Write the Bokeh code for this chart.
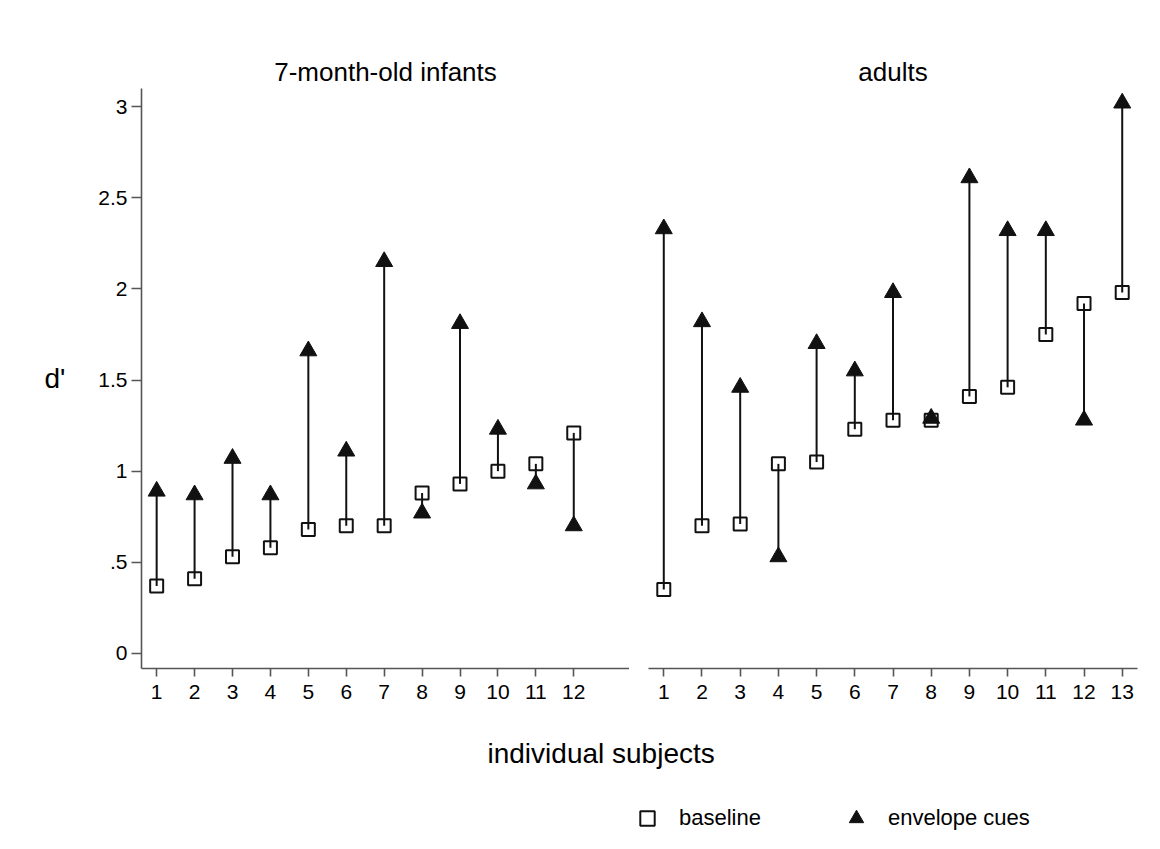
from bokeh.plotting import figure
from bokeh.models import FixedTicker, Range1d, Legend, LegendItem, ColumnDataSource
from bokeh.layouts import column, row
from bokeh.embed import file_html
from bokeh.resources import INLINE

FONT = "Liberation Sans"

# ---- data ----
panel_titles = ["7-month-old infants", "adults"]
infant_subjects = [1, 2, 3, 4, 5, 6, 7, 8, 9, 10, 11, 12]
infant_baseline = [0.37, 0.41, 0.53, 0.58, 0.68, 0.70, 0.70, 0.88, 0.93, 1.00, 1.04, 1.21]
infant_envelope = [0.89, 0.87, 1.07, 0.87, 1.66, 1.11, 2.15, 0.77, 1.81, 1.23, 0.93, 0.70]
adult_subjects = [1, 2, 3, 4, 5, 6, 7, 8, 9, 10, 11, 12, 13]
adult_baseline = [0.35, 0.70, 0.71, 1.04, 1.05, 1.23, 1.28, 1.28, 1.41, 1.46, 1.75, 1.92, 1.98]
adult_envelope = [2.33, 1.82, 1.46, 0.53, 1.70, 1.55, 1.98, 1.29, 2.61, 2.32, 2.32, 1.28, 3.02]
y_ticks = [0, 0.5, 1, 1.5, 2, 2.5, 3]
y_tick_labels = ["0", ".5", "1", "1.5", "2", "2.5", "3"]
y_label = "d'"
x_label = "individual subjects"
legend_labels = ["baseline", "envelope cues"]

AXIS_COLOR = "#555555"
INK = "#111111"

y_range = Range1d(-0.083, 3.1)


def style_x_axis(p, ticks):
    ax = p.xaxis[0]
    ax.ticker = FixedTicker(ticks=ticks)
    ax.axis_line_color = AXIS_COLOR
    ax.axis_line_width = 1.6
    ax.major_tick_line_color = AXIS_COLOR
    ax.major_tick_line_width = 1.6
    ax.major_tick_out = 8
    ax.major_tick_in = 0
    ax.minor_tick_line_color = None
    ax.major_label_text_font = FONT
    ax.major_label_text_font_size = "21px"
    ax.major_label_text_color = "#000000"
    ax.major_label_standoff = 8


def make_panel(title, subjects, base, env, width, x_range, mb_left, mb_right, show_y, title_offset):
    p = figure(width=width, height=710, x_range=x_range, y_range=y_range,
               output_backend="svg", toolbar_location=None,
               y_axis_location="left" if show_y else None,
               min_border_left=mb_left, min_border_right=mb_right,
               min_border_top=88, min_border_bottom=42)
    p.title.text = title
    p.title.align = "center"
    p.title.offset = title_offset
    p.title.text_font = FONT
    p.title.text_font_size = "26px"
    p.title.text_font_style = "normal"
    p.title.text_color = "#000000"
    p.title.standoff = 4
    p.outline_line_color = None
    p.xgrid.visible = False
    p.ygrid.visible = False
    p.background_fill_color = "white"
    p.border_fill_color = "white"

    src = ColumnDataSource(dict(x=subjects, base=base, env=env))
    p.segment(x0="x", y0="base", x1="x", y1="env", source=src,
              line_color=INK, line_width=2)
    p.scatter(x="x", y="base", source=src, marker="square", size=13,
              fill_alpha=0, line_color=INK, line_width=2)
    p.scatter(x="x", y="env", source=src, marker="triangle", size=17,
              fill_color=INK, line_color=INK, line_width=1)

    style_x_axis(p, subjects)
    if show_y:
        ay = p.yaxis[0]
        ay.ticker = FixedTicker(ticks=y_ticks)
        ay.major_label_overrides = {t: l for t, l in zip(y_ticks, y_tick_labels)}
        ay.axis_line_color = AXIS_COLOR
        ay.axis_line_width = 1.6
        ay.major_tick_line_color = AXIS_COLOR
        ay.major_tick_line_width = 1.6
        ay.major_tick_out = 10
        ay.major_tick_in = 0
        ay.minor_tick_line_color = None
        ay.major_label_text_font = FONT
        ay.major_label_text_font_size = "21px"
        ay.major_label_text_color = "#000000"
        ay.major_label_standoff = 4
        ay.axis_label = y_label
        ay.axis_label_orientation = "horizontal"
        ay.axis_label_text_font = FONT
        ay.axis_label_text_font_size = "28px"
        ay.axis_label_text_font_style = "normal"
        ay.axis_label_text_color = "#000000"
        ay.axis_label_standoff = 30
    return p


p_left = make_panel(panel_titles[0], infant_subjects, infant_baseline, infant_envelope,
                    629, Range1d(0.6, 13.47), 141, 0, True, -9)
p_right = make_panel(panel_titles[1], adult_subjects, adult_baseline, adult_envelope,
                     531, Range1d(0.6, 13.4), 19, 23, False, -12)

# ---- bottom strip: x label and legend ----
p_bot = figure(width=1160, height=139, output_backend="svg", toolbar_location=None,
               x_axis_location=None, y_axis_location=None,
               x_range=Range1d(0, 14), y_range=Range1d(0, 3.1),
               min_border_left=0, min_border_right=0, min_border_bottom=0,
               min_border_top=58)
p_bot.title.text = x_label
p_bot.title.align = "left"
p_bot.title.offset = 487
p_bot.title.text_font = FONT
p_bot.title.text_font_size = "28px"
p_bot.title.text_font_style = "normal"
p_bot.title.text_color = "#000000"
p_bot.title.standoff = 0
p_bot.outline_line_color = None
p_bot.xgrid.visible = False
p_bot.ygrid.visible = False

leg_src = ColumnDataSource(dict(x=infant_subjects, base=infant_baseline, env=infant_envelope))
r_sq = p_bot.scatter(x="x", y="base", source=leg_src, marker="square", size=13,
                     fill_alpha=0, line_color=INK, line_width=2)
r_tri = p_bot.scatter(x="x", y="env", source=leg_src, marker="triangle", size=17,
                      fill_color=INK, line_color=INK, line_width=1)
r_sq.visible = False
r_tri.visible = False

legend = Legend(items=[LegendItem(label=legend_labels[0], renderers=[r_sq]),
                       LegendItem(label=legend_labels[1], renderers=[r_tri])],
                orientation="horizontal", location=(629, 13),
                glyph_width=36, glyph_height=36, label_standoff=14, spacing=77,
                padding=0, margin=0, border_line_color=None, background_fill_alpha=0,
                label_text_font=FONT, label_text_font_size="22px",
                label_text_color="#000000")
p_bot.add_layout(legend)

layout = column(row(p_left, p_right), p_bot)

open("out.html", "w").write(file_html(layout, INLINE))
